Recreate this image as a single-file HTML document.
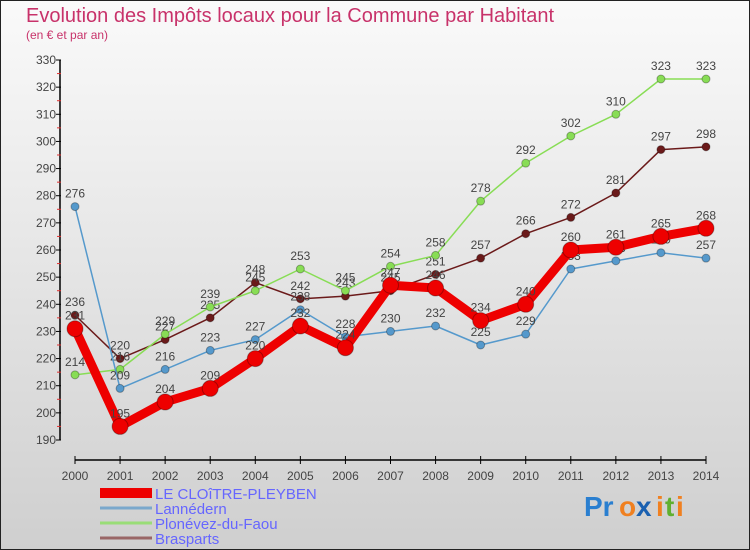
<!DOCTYPE html>
<html><head><meta charset="utf-8"><style>
body{margin:0}
#wrap{width:750px;height:550px;position:relative;overflow:hidden;font-family:"Liberation Sans",sans-serif}
</style></head><body>
<div id="wrap">
<svg id="chart" width="750" height="550" xmlns="http://www.w3.org/2000/svg">
<defs>
<linearGradient id="bg" x1="0" y1="0" x2="0" y2="1"><stop offset="0" stop-color="#fafafa"/><stop offset="1" stop-color="#cfcfcf"/></linearGradient>
</defs>
<rect x="0.5" y="0.5" width="749" height="549" fill="url(#bg)" stroke="#222"/>
<text x="26" y="22" font-size="20" fill="#c8326a">Evolution des Impôts locaux pour la Commune par Habitant</text>
<text x="26" y="39" font-size="12" fill="#c8326a">(en € et par an)</text>
<g id="axes"></g>
<g id="series"></g>
<g id="legend"></g>
<g font-size="28" font-weight="bold">
<text x="584" y="516" fill="#2a7fd0">Pr</text><text x="619" y="516" fill="#f08020">o</text><text x="636" y="516" fill="#1a60b0">x</text><text x="656" y="516" fill="#f08020">i</text><text x="665" y="516" fill="#60b030">t</text><text x="676" y="516" fill="#f08020">i</text>
</g>
</svg>
</div>
<script>
const years = [2000,2001,2002,2003,2004,2005,2006,2007,2008,2009,2010,2011,2012,2013,2014];
const yTicks = [190,200,210,220,230,240,250,260,270,280,290,300,310,320,330];
const names = ["LE CLOîTRE-PLEYBEN","Lannédern","Plonévez-du-Faou","Brasparts"];
const cloitre = [231,195,204,209,220,232,224,247,246,234,240,260,261,265,268];
const lannedern = [276,209,216,223,227,238,228,230,232,225,229,253,256,259,257];
const plonevez = [214,216,229,239,245,253,245,254,258,278,292,302,310,323,323];
const brasparts = [236,220,227,235,248,242,243,245,251,257,266,272,281,297,298];

const NS="http://www.w3.org/2000/svg";
const x0=75,x1=706,yTop=60,yBot=440,vMin=190,vMax=330;
const X=i=>x0+(x1-x0)*i/(years.length-1);
const Y=v=>yBot-(v-vMin)/(vMax-vMin)*(yBot-yTop);
function mk(tag,attrs,parent){const e=document.createElementNS(NS,tag);for(const k in attrs)e.setAttribute(k,attrs[k]);parent.appendChild(e);return e;}
const axes=document.getElementById('axes');
mk('line',{x1:60,y1:60,x2:60,y2:440,stroke:'#000','stroke-width':1.5},axes);
mk('line',{x1:75,y1:460,x2:706,y2:460,stroke:'#000','stroke-width':1.5},axes);
yTicks.forEach(v=>{
  mk('line',{x1:56,y1:Y(v),x2:61,y2:Y(v),stroke:'#000'},axes);
  if(v<vMax) mk('line',{x1:57,y1:Y(v+5),x2:61,y2:Y(v+5),stroke:'#e03030'},axes);
  const t=mk('text',{x:56,y:Y(v)+4,'font-size':12,'text-anchor':'end',fill:'#444'},axes);
  t.textContent=v;
  
  
});
years.forEach((yr,i)=>{
  mk('line',{x1:X(i),y1:456,x2:X(i),y2:464,stroke:'#000'},axes);
  const t=mk('text',{x:X(i),y:480,'font-size':12,'text-anchor':'middle',fill:'#444'},axes);
  t.textContent=yr;
  
  
});
const seriesG=document.getElementById('series');
const defs=[
 {d:brasparts,c:'#6b1a1a',w:1.5,r:4,n:'brasparts'},
 {d:plonevez,c:'#88dd55',w:1.5,r:4,n:'plonevez-du-faou'},
 {d:lannedern,c:'#5599cc',w:1.5,r:4,n:'lannedern'},
 {d:cloitre,c:'#ee0000',w:9,r:8,n:'le-cloitre-pleyben'}];
defs.forEach(s=>{
  const g=mk('g',{},seriesG);
  
  
  mk('polyline',{points:s.d.map((v,i)=>X(i)+','+Y(v)).join(' '),fill:'none',stroke:s.c,'stroke-width':s.w,'stroke-linejoin':'round'},g);
  s.d.forEach((v,i)=>{
    const c=mk('circle',{cx:X(i),cy:Y(v),r:s.r,fill:s.c,stroke:'rgba(0,0,0,0.3)'},g);
    
    
    const t=mk('text',{x:X(i),y:Y(v)-9,'font-size':12,'text-anchor':'middle',fill:'#444'},g);
    t.textContent=v;
    
    
  });
});
const lg=document.getElementById('legend');
const lcols=['#ee0000','#7aa8cc','#99dd77','#996666'];
const lw=[10,3,3,3];
names.forEach((n,i)=>{
  const y=493+i*15;
  const g=mk('g',{},lg);
  
  
  mk('line',{x1:100,y1:y,x2:152,y2:y,stroke:lcols[i],'stroke-width':lw[i]},g);
  const t=mk('text',{x:155,y:y+6,'font-size':15,fill:'#6666ff'},g);
  t.textContent=n;
});
</script>
</body></html>
